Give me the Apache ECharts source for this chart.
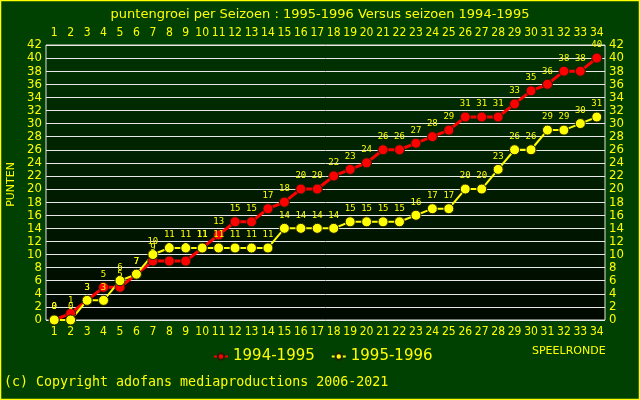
<!DOCTYPE html>
<html><head><meta charset="utf-8">
<script src="https://cdn.jsdelivr.net/npm/echarts@6/dist/echarts.min.js"></script>
<style>html,body{margin:0;padding:0;background:#004000;}#c{width:640px;height:400px;}</style>
</head><body><div id="c"></div>
<script>
const rounds = ['1','2','3','4','5','6','7','8','9','10','11','12','13','14','15','16','17','18','19','20','21','22','23','24','25','26','27','28','29','30','31','32','33','34'];
const season9495 = [0,1,3,5,5,7,9,9,9,11,13,15,15,17,18,20,20,22,23,24,26,26,27,28,29,31,31,31,33,35,36,38,38,40];
const season9596 = [0,0,3,3,6,7,10,11,11,11,11,11,11,11,14,14,14,14,15,15,15,15,16,17,17,20,20,23,26,26,29,29,30,31];
const titleText = 'puntengroei per Seizoen : 1995-1996 Versus seizoen 1994-1995';
const yName = 'PUNTEN';
const xName = 'SPEELRONDE';
const copyright = '(c) Copyright adofans mediaproductions 2006-2021';

const Y = '#ffff00';
const COND = "'DejaVu Sans Condensed', 'Liberation Sans Narrow', 'Liberation Sans', sans-serif";
const chart = echarts.init(document.getElementById('c'));
const axisLbl = {color: Y, fontSize: 12, fontFamily: COND};
const xCommon = {
  type: 'category', data: rounds, boundaryGap: true,
  axisLine: {show: false}, axisTick: {show: false}, splitLine: {show: false},
  axisLabel: Object.assign({interval: 0, margin: 6}, axisLbl)
};
const yCommon = {
  type: 'value', min: 0, max: 42, interval: 2,
  axisLine: {show: false}, axisTick: {show: false},
  axisLabel: Object.assign({margin: 4}, axisLbl, {fontSize: 13})
};
function mkSeries(name, data, color, width) {
  return {
    name: name, type: 'line', data: data, xAxisIndex: 0, yAxisIndex: 0,
    symbol: 'circle', symbolSize: 10,
    itemStyle: {color: color, borderColor: '#202000', borderWidth: 1},
    lineStyle: {color: color, width: width},
    label: {show: true, position: 'top', distance: 3, color: Y, fontSize: 9, fontFamily: 'DejaVu Sans Mono'},
    emphasis: {disabled: true}, animation: false
  };
}
chart.setOption({
  backgroundColor: '#004000',
  animation: false,
  title: {text: titleText, left: 'center', top: 3, textStyle: {color: Y, fontSize: 13, fontWeight: 'normal', fontFamily: 'DejaVu Sans'}},
  grid: {left: 46, right: 35, top: 45, bottom: 80, show: true, borderColor: '#e0e0e0', borderWidth: 1,
    backgroundColor: new echarts.graphic.LinearGradient(0, 0, 0, 1, [{offset: 0, color: '#003300'}, {offset: 1, color: '#000800'}])},
  legend: {
    left: 208, top: 344, itemGap: 16, itemWidth: 14, itemHeight: 8,
    textStyle: {color: Y, fontSize: 15, fontFamily: 'DejaVu Sans'},
    data: ['1994-1995', '1995-1996']
  },
  xAxis: [
    Object.assign({position: 'bottom'}, xCommon),
    Object.assign({position: 'top'}, xCommon)
  ],
  yAxis: [
    Object.assign({position: 'left', splitLine: {show: true, lineStyle: {color: '#e8e8e8', width: 1}}}, yCommon),
    Object.assign({position: 'right', splitLine: {show: false}}, yCommon)
  ],
  series: [
    mkSeries('1994-1995', season9495, '#ff0000', 3),
    mkSeries('1995-1996', season9596, '#ffff00', 2)
  ],
  graphic: [
    {type: 'rect', shape: {x: 0.5, y: 0.5, width: 639, height: 399}, style: {fill: 'none', stroke: Y, lineWidth: 1.5}, silent: true},
    {type: 'text', left: 6, top: 162, rotation: Math.PI / 2, style: {text: yName, fill: Y, fontSize: 11, fontFamily: 'DejaVu Sans'}},
    {type: 'text', left: 532, top: 346, style: {text: xName, fill: Y, fontSize: 11, fontFamily: 'DejaVu Sans'}},
    {type: 'text', left: 4, top: 376, style: {text: copyright, fill: Y, fontSize: 13.3, fontFamily: 'DejaVu Sans Mono'}},
    {type: 'rect', shape: {x: 274, y: 182, width: 92, height: 34}, z: -1, style: {fill: 'rgba(140,140,140,0.08)', stroke: 'rgba(140,140,140,0.15)'}, silent: true},
    {type: 'text', left: 280, top: 186, z: -1, style: {text: 'ADOfans', fill: 'rgba(150,150,150,0.2)', fontSize: 22, fontWeight: 'bold', fontFamily: 'DejaVu Sans'}}
  ]
});
</script></body></html>
